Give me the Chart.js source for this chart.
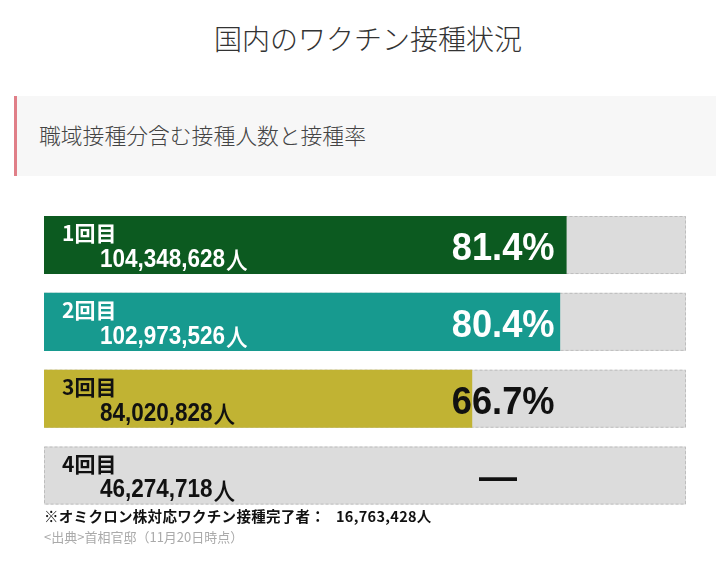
<!DOCTYPE html>
<html lang="ja">
<head>
<meta charset="utf-8">
<script src="https://cdn.jsdelivr.net/npm/chart.js@4.4.1/dist/chart.umd.min.js"></script>
<style>
  html, body { margin:0; padding:0; background:#fff; }
  body { width:716px; height:566px; position:relative; overflow:hidden;
         font-family:"Noto Sans CJK JP","Noto Sans",sans-serif; }
  #title { position:absolute; left:0; width:736px; top:18px; text-align:center;
           font-size:28px; font-weight:300; color:#333; line-height:40px; }
  #subbox { position:absolute; left:14px; top:96px; width:702px; height:80px;
            background:#f7f7f7; border-left:3px solid #e07f88; box-sizing:border-box; }
  #subtitle { position:absolute; left:22px; top:22px; font-size:21.8px; font-weight:300;
              color:#444; line-height:34px; }
  #note { position:absolute; left:44px; top:505px; font-size:14.5px; font-weight:700;
          color:#111; line-height:22px; letter-spacing:0.3px; }
  #source { position:absolute; left:44px; top:527px; font-size:13px; color:#aaa;
            line-height:20px; }
  #wrap { position:absolute; left:0; top:0; width:716px; height:566px; }
</style>
</head>
<body>
<div id="title">国内のワクチン接種状況</div>
<div id="subbox"><div id="subtitle">職域接種分含む接種人数と接種率</div></div>
<div id="wrap"><canvas id="c"></canvas></div>
<div id="note">※オミクロン株対応ワクチン接種完了者：&nbsp;&nbsp;&nbsp;16,763,428人</div>
<div id="source">&lt;出典&gt;首相官邸（11月20日時点）</div>
<script>
// ---- data ----
const categories = ['1回目', '2回目', '3回目', '4回目'];
const people = [104348628, 102973526, 84020828, 46274718];
const rates = [81.4, 80.4, 66.7, null];
const fullScale = [100, 100, 100, 100];
const barColors = ['#0c5a20', '#179a8f', '#c1b333', '#c1b333'];
const textColors = ['#ffffff', '#ffffff', '#111111', '#111111'];
const pctColors = ['#ffffff', '#ffffff', '#111111', '#111111'];

const dashedBorder = {
  id: 'dashedBorder',
  afterDatasetDraw(chart, args) {
    if (args.index !== 1) return;
    const ctx = chart.ctx;
    ctx.save();
    ctx.setLineDash([3, 2]);
    ctx.strokeStyle = '#bdbdbd';
    ctx.lineWidth = 1;
    args.meta.data.forEach(bar => {
      const p = bar.getProps(['x', 'y', 'base', 'height'], true);
      ctx.strokeRect(p.base + 0.5, p.y - p.height / 2 + 0.5, p.x - p.base - 1, p.height - 1);
    });
    ctx.restore();
  }
};

const barLabels = {
  id: 'barLabels',
  afterDatasetsDraw(chart) {
    const ctx = chart.ctx;
    const meta = chart.getDatasetMeta(1);
    const xs = chart.scales.x;
    const anchor = xs.getPixelForValue(80);
    ctx.save();
    meta.data.forEach((bar, i) => {
      const p = bar.getProps(['y', 'base'], true);
      const left = p.base;
      const cy = p.y;
      // label
      ctx.fillStyle = textColors[i];
      ctx.textBaseline = 'middle';
      ctx.textAlign = 'left';
      ctx.font = '700 21px "Noto Sans CJK JP", sans-serif';
      ctx.fillText(categories[i], left + 18, cy - 12);
      // people count
      ctx.save();
      ctx.translate(left + 56, cy + 15);
      ctx.scale(0.9, 1);
      ctx.font = '700 25px "Liberation Sans", "Noto Sans CJK JP", sans-serif';
      const num = people[i].toLocaleString('en-US');
      ctx.fillText(num, 0, 0);
      const w = ctx.measureText(num).width;
      ctx.font = '500 24px "Noto Sans CJK JP", sans-serif';
      ctx.fillText('人', w + 1, 0);
      ctx.restore();
      // percentage
      ctx.fillStyle = pctColors[i];
      if (rates[i] !== null) {
        ctx.save();
        ctx.translate(anchor - 3, cy + 15);
        ctx.scale(0.93, 1);
        ctx.textAlign = 'right';
        ctx.textBaseline = 'alphabetic';
        ctx.font = '700 39px "Liberation Sans", Arial, sans-serif';
        ctx.fillText(rates[i].toFixed(1) + '%', 0, 0);
        ctx.restore();
      } else {
        ctx.textAlign = 'center';
        ctx.textBaseline = 'middle';
        ctx.font = '700 38px "Liberation Sans", Arial, sans-serif';
        ctx.fillText('—', xs.getPixelForValue(70.7), cy + 4);
      }
    });
    ctx.restore();
  }
};

new Chart(document.getElementById('c'), {
  type: 'bar',
  data: {
    labels: categories,
    datasets: [
      { data: rates, backgroundColor: barColors, borderWidth: 0,
        grouped: false, barPercentage: 0.755, categoryPercentage: 1 },
      { data: fullScale, backgroundColor: '#dcdcdc', borderWidth: 0,
        grouped: false, barPercentage: 0.755, categoryPercentage: 1 }
    ]
  },
  options: {
    indexAxis: 'y',
    responsive: true,
    maintainAspectRatio: false,
    animation: false,
    layout: { padding: { left: 44, right: 30, top: 206.6, bottom: 52 } },
    scales: {
      x: { display: false, min: 0, max: 100 },
      y: { display: false }
    },
    plugins: { legend: { display: false }, tooltip: { enabled: false }, title: { display: false } }
  },
  plugins: [dashedBorder, barLabels]
});
</script>
</body>
</html>
